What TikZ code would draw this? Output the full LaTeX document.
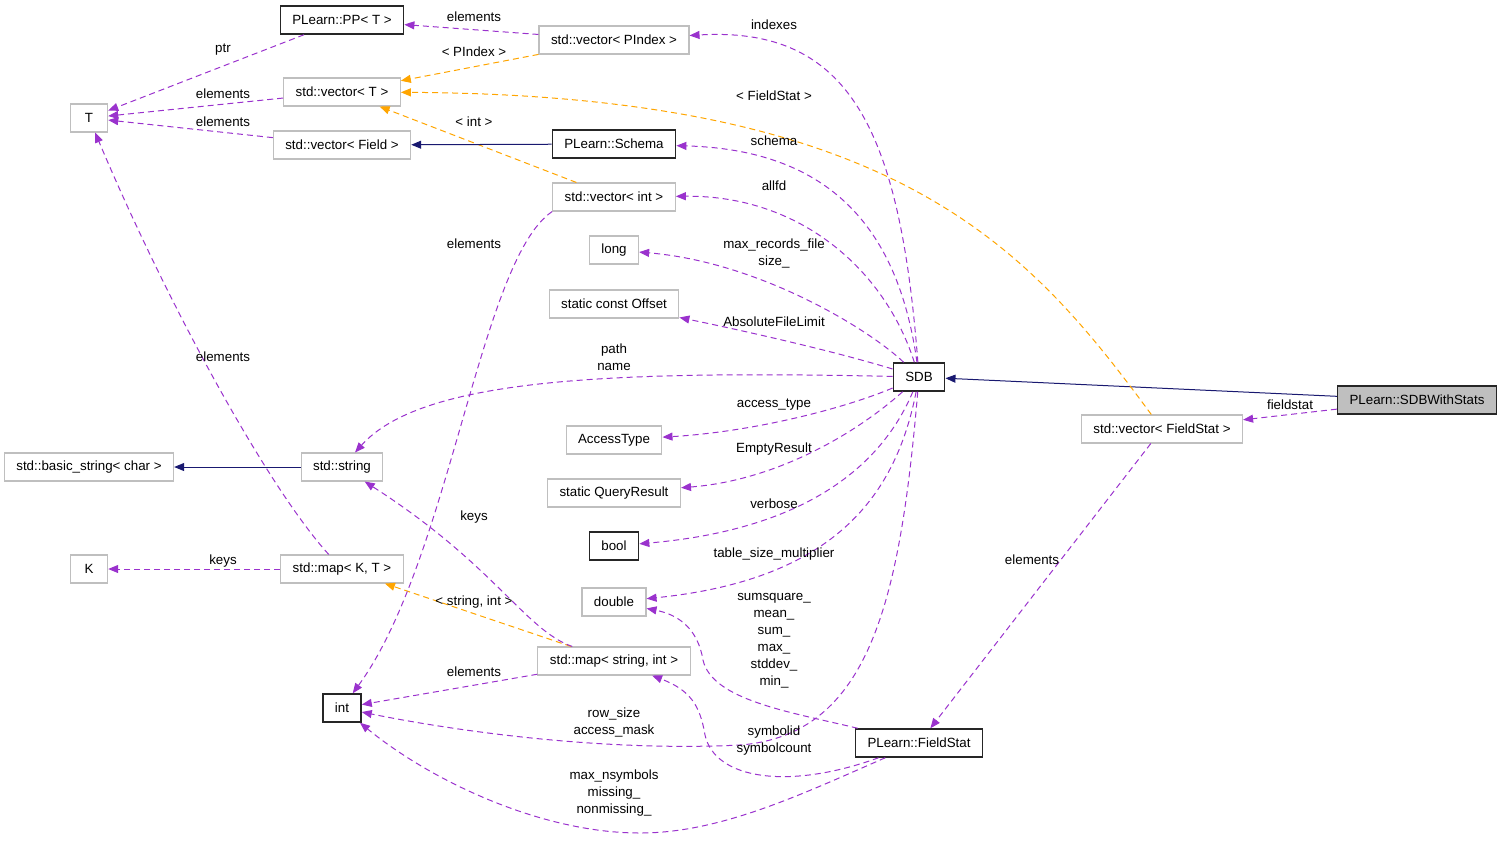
\documentclass[tikz,border=0pt]{standalone}
\usepackage{fontspec}
\setmainfont{Liberation Sans}
\usetikzlibrary{arrows.meta}
\definecolor{dorchid}{HTML}{9A32CD}
\definecolor{tmplorange}{HTML}{FFA500}
\definecolor{midnight}{HTML}{191970}
\definecolor{boxgray}{HTML}{BFBFBF}

\begin{document}
\begin{tikzpicture}
		[x=0.75pt,y=-0.75pt,
		 box/.style={draw=boxgray,line width=0.8pt,minimum height=21pt,minimum width=28pt,
		   inner xsep=9pt,inner ysep=0pt,font=\fontsize{10}{12}\selectfont},
		 cls/.style={box,draw=black!85,line width=1.1pt},
		 lbl/.style={font=\fontsize{10}{12.75}\selectfont,align=center,inner sep=0pt,yshift=-1.5pt},
		 tip/.style={-{Triangle[length=7.5pt,width=6pt]}},
		 use/.style={tip,draw=dorchid,dash pattern=on 4.5pt off 3pt,line width=0.75pt},
		 tmpl/.style={use,draw=tmplorange},
		 inh/.style={tip,draw=midnight,line width=0.75pt}]

		\useasboundingbox (0,0) rectangle (1501,840);

		\node[box] (T) at (89,118) {T};
		\node[cls] (pp) at (342,20) {PLearn::PP< T >};
		\node[box] (vecT) at (342,92) {std::vector< T >};
		\node[box] (vecField) at (342,145) {std::vector< Field >};
		\node[box] (vecPIndex) at (614,40) {std::vector< PIndex >};
		\node[cls] (schema) at (614,144) {PLearn::Schema};
		\node[box] (vecInt) at (614,197) {std::vector< int >};
		\node[box] (long) at (614,250) {long};
		\node[box] (offset) at (614,304) {static const Offset};
		\node[cls] (sdb) at (919,377) {SDB};
		\node[box] (access) at (614,440) {AccessType};
		\node[box] (query) at (614,493) {static QueryResult};
		\node[cls] (bool) at (614,546) {bool};
		\node[box] (double) at (614,602) {double};
		\node[box] (mapStrInt) at (614,661) {std::map< string, int >};
		\node[cls] (int) at (342,708) {int};
		\node[cls] (fieldStat) at (919,743) {PLearn::FieldStat};
		\node[cls,fill=boxgray] (sdbws) at (1417,400) {PLearn::SDBWithStats};
		\node[box] (vecFieldStat) at (1162,429) {std::vector< FieldStat >};
		\node[box] (basicStr) at (89,467) {std::basic\_string< char >};
		\node[box] (str) at (342,467) {std::string};
		\node[box] (K) at (89,569) {K};
		\node[box] (mapKT) at (342,569) {std::map< K, T >};

		\draw[use] (pp) -- (T);
		\draw[use] (vecT) -- (T);
		\draw[use] (vecField) -- (T);
		\draw[use] (vecPIndex) -- (pp);
		\draw[tmpl] (vecPIndex) -- (vecT);
		\draw[tmpl] (vecInt) -- (vecT);
		\draw[inh] (schema) -- (vecField);
		\draw[inh] (str) -- (basicStr);
		\draw[inh] (sdbws) -- (sdb);
		\draw[use] (sdbws) -- (vecFieldStat);
		\draw[use] (vecFieldStat) -- (fieldStat);
		\draw[use] (mapStrInt) -- (int);
		\draw[tmpl] (mapStrInt) -- (mapKT);
		\draw[use] (mapKT) -- (K);
		\draw[use] (mapKT) .. controls (270,490) and (170,310) .. (T);
		\draw[tmpl] (vecFieldStat) .. controls (1030,250) and (900,95) .. (vecT);
		\draw[use] (sdb) .. controls (900,130) and (850,26) .. (vecPIndex);
		\draw[use] (sdb) .. controls (900,240) and (840,150) .. (schema);
		\draw[use] (sdb) .. controls (885,270) and (800,195) .. (vecInt);
		\draw[use] (vecInt.south west) .. controls (480,260) and (450,560) .. (int);
		\draw[use] (sdb) .. controls (870,330) and (760,262) .. (long);
		\draw[use] (sdb) .. controls (830,350) and (740,330) .. (offset);
		\draw[use] (sdb) .. controls (600,370) and (420,380) .. (str);
		\draw[use] (sdb) .. controls (840,410) and (750,432) .. (access);
		\draw[use] (sdb) .. controls (860,430) and (780,480) .. (query);
		\draw[use] (sdb) .. controls (880,470) and (800,530) .. (bool);
		\draw[use] (sdb) .. controls (895,500) and (830,580) .. (double);
		\draw[use] (sdb) .. controls (900,600) and (870,735) .. (740,745)
			.. controls (600,752) and (450,730) .. (int);
		\draw[use] (fieldStat) .. controls (790,712) and (712,700) .. (703,660)
			.. controls (698,630) and (680,615) .. (double);
		\draw[use] (fieldStat) .. controls (790,790) and (715,780) .. (705,735)
			.. controls (700,705) and (690,690) .. (mapStrInt);
		\draw[use] (fieldStat) .. controls (800,795) and (720,833) .. (640,833)
			.. controls (540,833) and (430,780) .. (int);
		\draw[use] (mapStrInt) .. controls (525,630) and (495,565) .. (str);

		\node[lbl] (lptr) at (223,48) {ptr};
		\node[lbl] (lppelem) at (474,15) {elements};
		\node[lbl] (lpindex) at (474,50) {< PIndex >};
		\node[lbl] (lvecTelem) at (223,92) {elements};
		\node[lbl] (lfieldelem) at (223,120) {elements};
		\node[lbl] (lint) at (474,120) {< int >};
		\node[lbl] (lindexes) at (774,23) {indexes};
		\node[lbl] (lfieldstatT) at (774,94) {< FieldStat >};
		\node[lbl] (lschema) at (774,139) {schema};
		\node[lbl] (lallfd) at (774,184) {allfd};
		\node[lbl] (lintelem) at (474,242) {elements};
		\node[lbl] (llong) at (774,251) {max\_records\_file\\size\_};
		\node[lbl] (loffset) at (774,320) {AbsoluteFileLimit};
		\node[lbl] (lpath) at (614,355) {path\\name};
		\node[lbl] (lTelem) at (223,355) {elements};
		\node[lbl] (laccess) at (774,403) {access\_type};
		\node[lbl] (lquery) at (774,447) {EmptyResult};
		\node[lbl] (lverbose) at (774,502) {verbose};
		\node[lbl] (lkeys) at (474,515) {keys};
		\node[lbl] (ltable) at (774,552) {table\_size\_multiplier};
		\node[lbl] (lKkeys) at (223,559) {keys};
		\node[lbl] (lfsel) at (1032,558) {elements};
		\node[lbl] (lstrint) at (474,600) {< string, int >};
		\node[lbl] (ldouble) at (774,639) {sumsquare\_\\mean\_\\sum\_\\max\_\\stddev\_\\min\_};
		\node[lbl] (lmapelem) at (474,670) {elements};
		\node[lbl] (lrow) at (614,720) {row\_size\\access\_mask};
		\node[lbl] (lsymbol) at (774,739) {symbolid\\symbolcount};
		\node[lbl] (lnsym) at (614,791) {max\_nsymbols\\missing\_\\nonmissing\_};
		\node[lbl] (lfieldstat) at (1290,403) {fieldstat};

	\end{tikzpicture}
\end{document}
